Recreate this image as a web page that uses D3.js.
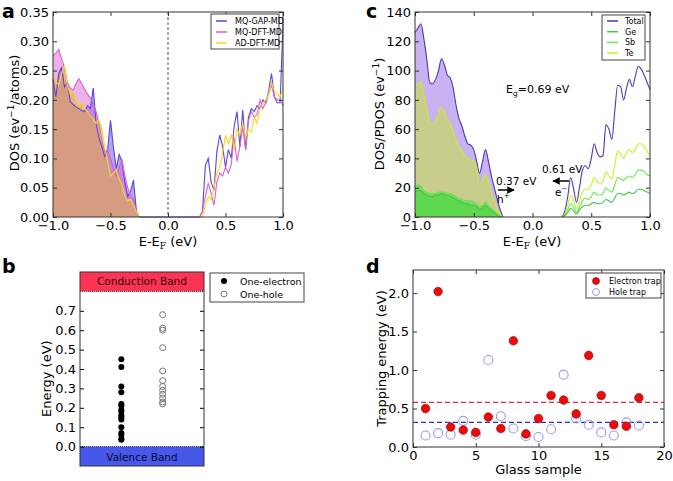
<!DOCTYPE html>
<html>
<head>
<meta charset="utf-8">
<script src="https://cdn.jsdelivr.net/npm/d3@7"></script>
<style>
  body { margin: 0; background: #fff; }
  svg text { font-family: 'DejaVu Sans', sans-serif; }
</style>
</head>
<body>
<svg id="chart" width="673" height="481"></svg>
<script>
// energy grids (eV), below and above the gap
const eValence = [-1.000, -0.975, -0.950, -0.925, -0.900, -0.875, -0.850, -0.825, -0.800, -0.775,
  -0.750, -0.725, -0.700, -0.675, -0.650, -0.625, -0.600, -0.575, -0.550, -0.525,
  -0.500, -0.475, -0.450, -0.425, -0.400, -0.375, -0.350, -0.325, -0.300, -0.275, -0.250];
const eConduction = [0.250, 0.275, 0.300, 0.325, 0.350, 0.375, 0.400, 0.425, 0.450, 0.475,
  0.500, 0.525, 0.550, 0.575, 0.600, 0.625, 0.650, 0.675, 0.700, 0.725,
  0.750, 0.775, 0.800, 0.825, 0.850, 0.875, 0.900, 0.925, 0.950, 0.975, 1.000];

// panel a: DOS per atom
const gapValence = [0.235, 0.205, 0.245, 0.255, 0.222, 0.230, 0.197, 0.192, 0.188, 0.185,
  0.182, 0.180, 0.190, 0.185, 0.220, 0.160, 0.135, 0.120, 0.103, 0.115,
  0.165, 0.120, 0.083, 0.107, 0.095, 0.060, 0.035, 0.045, 0.063, 0.010, 0.000];
const dftValence = [0.275, 0.280, 0.286, 0.270, 0.255, 0.230, 0.220, 0.217, 0.228, 0.236,
  0.228, 0.218, 0.210, 0.203, 0.192, 0.180, 0.160, 0.130, 0.110, 0.115,
  0.100, 0.085, 0.070, 0.085, 0.097, 0.070, 0.050, 0.035, 0.030, 0.008, 0.000];
const adValence = [0.245, 0.232, 0.225, 0.245, 0.257, 0.225, 0.210, 0.215, 0.200, 0.190,
  0.195, 0.185, 0.180, 0.172, 0.168, 0.160, 0.165, 0.150, 0.120, 0.095,
  0.070, 0.075, 0.080, 0.065, 0.055, 0.035, 0.028, 0.030, 0.020, 0.008, 0.000];
const gapConduction = [0.000, 0.000, 0.010, 0.088, 0.100, 0.060, 0.045, 0.112, 0.140, 0.120,
  0.085, 0.115, 0.100, 0.155, 0.180, 0.120, 0.183, 0.115, 0.170, 0.185,
  0.180, 0.190, 0.185, 0.200, 0.195, 0.215, 0.245, 0.205, 0.195, 0.195, 0.330];
const dftConduction = [0.000, 0.000, 0.010, 0.035, 0.058, 0.040, 0.020, 0.060, 0.075, 0.070,
  0.085, 0.075, 0.090, 0.135, 0.095, 0.120, 0.155, 0.115, 0.165, 0.180,
  0.170, 0.175, 0.200, 0.185, 0.195, 0.210, 0.225, 0.205, 0.200, 0.200, 0.190];
const adConduction = [0.000, 0.000, 0.000, 0.020, 0.035, 0.030, 0.050, 0.075, 0.085, 0.110,
  0.140, 0.125, 0.140, 0.115, 0.150, 0.140, 0.160, 0.135, 0.150, 0.145,
  0.170, 0.160, 0.185, 0.195, 0.200, 0.210, 0.230, 0.215, 0.210, 0.205, 0.220];

// panel c: total DOS and projected DOS
const totalValence = [126, 129, 132, 122, 108, 92, 91, 94, 100, 108,
  104, 97, 95, 88, 76, 67, 62, 55, 50, 49,
  46, 38, 30, 38, 46, 38, 28, 20, 12, 5, 0];
const teValence = [89, 91, 92, 84, 74, 64, 63, 66, 70, 75,
  72, 66, 64, 58, 52, 48, 45, 42, 40, 39,
  38, 34, 22, 25, 29, 24, 17, 11, 6, 2, 0];
const sbValence = [20, 22, 21, 18, 17, 16, 16, 16, 17, 17,
  17, 16, 16, 15, 14, 13, 12, 11, 11, 11,
  10, 9, 7, 8, 10, 8, 6, 4, 2, 1, 0];
const geValence = [17, 18, 18, 16, 15, 14, 14, 15, 15, 16,
  15, 15, 14, 13, 12, 11, 10, 9, 9, 8,
  8, 7, 5, 6, 8, 6, 4, 3, 1, 0, 0];
const totalConduction = [0, 4, 14, 27, 19, 10, 20, 32, 35, 33,
  40, 50, 44, 41, 42, 63, 60, 53, 72, 90,
  89, 80, 88, 94, 89, 96, 103, 101, 97, 92, 87];
const teConduction = [0, 2, 8, 15, 11, 6, 11, 17, 19, 19,
  22, 27, 24, 23, 24, 31, 28, 26, 36, 45,
  43, 40, 44, 46, 44, 46, 50, 50, 48, 45, 42];
const sbConduction = [0, 1, 5, 9, 7, 3, 7, 11, 13, 12,
  14, 17, 15, 15, 16, 20, 18, 17, 22, 27,
  26, 25, 27, 28, 27, 29, 32, 32, 31, 29, 28];
const geConduction = [0, 1, 3, 6, 4, 2, 5, 7, 8, 8,
  9, 10, 9, 9, 10, 12, 11, 10, 13, 16,
  16, 15, 16, 17, 16, 17, 19, 19, 18, 17, 16];

// panel b: trap levels (eV)
const electronLevels = [0.45, 0.41, 0.31, 0.28, 0.22, 0.21, 0.19, 0.18, 0.16, 0.15, 0.14, 0.10, 0.07, 0.06, 0.04, 0.035];
const holeLevels = [0.68, 0.61, 0.60, 0.51, 0.39, 0.34, 0.31, 0.29, 0.27, 0.25, 0.23, 0.22];

// panel d: trapping energy per glass sample
const samples = [1, 2, 3, 4, 5, 6, 7, 8, 9, 10, 11, 12, 13, 14, 15, 16, 17, 18];
const electronTrap = [0.50, 2.02, 0.26, 0.22, 0.19, 0.39, 0.24, 1.38, 0.17, 0.37, 0.67, 0.61, 0.43, 1.19, 0.67, 0.29, 0.27, 0.64];
const holeTrap = [0.15, 0.18, 0.16, 0.34, 0.16, 1.13, 0.40, 0.24, 0.14, 0.13, 0.23, 0.94, 0.37, 0.29, 0.19, 0.15, 0.32, 0.28];
const electronMean = 0.58;
const holeMean = 0.32;

const svg = d3.select('#chart');

const zip = (xs, ys) => xs.map((x, i) => [x, ys[i]]);

// matplotlib-like frame: inward ticks on all four sides
function frame(g, x, y, xTicks, yTicks, xFmt, yFmt) {
  const [yb, yt] = y.range();
  const [xl, xr] = x.range();
  const axes = [
    [d3.axisBottom(x).tickValues(xTicks).tickFormat(xFmt), `translate(0,${yb})`],
    [d3.axisTop(x).tickValues(xTicks).tickFormat(''), `translate(0,${yt})`],
    [d3.axisLeft(y).tickValues(yTicks).tickFormat(yFmt), `translate(${xl},0)`],
    [d3.axisRight(y).tickValues(yTicks).tickFormat(''), `translate(${xr},0)`],
  ];
  axes.forEach(([ax, tr]) => {
    const a = g.append('g')
      .attr('transform', tr)
      .call(ax.tickSize(-4).tickPadding(4));
    a.select('.domain').remove();
    a.selectAll('line').attr('stroke', '#333');
    a.attr('font-family', 'DejaVu Sans').attr('font-size', 13).attr('fill', '#000');
  });
  g.append('rect')
    .attr('x', xl).attr('y', yt)
    .attr('width', xr - xl).attr('height', yb - yt)
    .attr('fill', 'none')
    .attr('stroke', '#333')
    .attr('stroke-width', 1);
}

function eFermiLabel(g, cx, y) {
  const t = g.append('text')
    .attr('x', cx).attr('y', y)
    .attr('text-anchor', 'middle')
    .attr('font-size', 13);
  t.append('tspan').text('E-E');
  t.append('tspan').text('F').attr('font-family', 'DejaVu Serif').attr('font-size', 9).attr('dy', 3);
  t.append('tspan').text(' (eV)').attr('dy', -3);
}

function panelLetter(x, y, s) {
  svg.append('text')
    .attr('x', x).attr('y', y)
    .attr('font-size', 19)
    .attr('font-weight', 'bold')
    .text(s);
}

/* ---------- panel a ---------- */
const ga = svg.append('g');
const xa = d3.scaleLinear().domain([-1, 1]).range([53, 283]);
const ya = d3.scaleLinear().domain([0, 0.35]).range([217, 12]);

const seriesA = [
  { name: 'MQ-GAP-MD', val: gapValence, cond: gapConduction, line: '#5a46dc', fill: '#6450dc' },
  { name: 'MQ-DFT-MD', val: dftValence, cond: dftConduction, line: '#d860c8', fill: '#dc64dc' },
  { name: 'AD-DFT-MD', val: adValence, cond: adConduction, line: '#f8d820', fill: '#e6b41e' },
];

const areaA = d3.area().x((d) => xa(d[0])).y0(ya(0)).y1((d) => ya(d[1]));
const lineA = d3.line().x((d) => xa(d[0])).y((d) => ya(d[1]));

seriesA.forEach((s) => {
  ga.append('path')
    .datum(zip(eValence, s.val))
    .attr('d', areaA)
    .attr('fill', s.fill)
    .attr('fill-opacity', 0.5);
});
seriesA.forEach((s) => {
  [zip(eValence, s.val), zip(eConduction, s.cond)].forEach((pts) => {
    ga.append('path')
      .datum(pts)
      .attr('d', lineA)
      .attr('fill', 'none')
      .attr('stroke', s.line)
      .attr('stroke-width', 1.1);
  });
});
// flat zero across the gap
ga.append('line')
  .attr('x1', xa(-0.25)).attr('x2', xa(0.25))
  .attr('y1', ya(0)).attr('y2', ya(0))
  .attr('stroke', '#5a46dc');

ga.append('line')
  .attr('x1', xa(0)).attr('x2', xa(0))
  .attr('y1', ya(0.35)).attr('y2', ya(0))
  .attr('stroke', '#667080')
  .attr('stroke-width', 1.2)
  .attr('stroke-dasharray', '3,2');

frame(ga, xa, ya, [-1, -0.5, 0, 0.5, 1], d3.range(0, 0.351, 0.05), d3.format('.1f'), d3.format('.2f'));

// legend a
const legA = ga.append('g');
legA.append('rect')
  .attr('x', 211).attr('y', 14).attr('width', 68).attr('height', 35)
  .attr('fill', '#fff').attr('stroke', '#444');
seriesA.forEach((s, i) => {
  legA.append('line')
    .attr('x1', 216).attr('x2', 227)
    .attr('y1', 21 + i * 11).attr('y2', 21 + i * 11)
    .attr('stroke', s.line).attr('stroke-width', 1.5);
  legA.append('text')
    .attr('x', 235).attr('y', 24 + i * 11)
    .attr('font-size', 8)
    .text(s.name);
});

eFermiLabel(ga, 168, 246);
const yla = ga.append('text')
  .attr('transform', 'translate(19,113) rotate(-90)')
  .attr('text-anchor', 'middle')
  .attr('font-size', 13);
yla.append('tspan').text('DOS (ev');
yla.append('tspan').text('−1').attr('font-size', 9).attr('dy', -5);
yla.append('tspan').text('/atoms)').attr('dy', 5);
panelLetter(2, 18, 'a');

/* ---------- panel c ---------- */
const gc = svg.append('g');
const xc = d3.scaleLinear().domain([-1, 1]).range([415, 650]);
const yc = d3.scaleLinear().domain([0, 140]).range([217, 12]);

const seriesC = [
  { name: 'Total', val: totalValence, cond: totalConduction, line: '#5234b4', fill: '#9a72e8', op: 0.55 },
  { name: 'Ge', val: geValence, cond: geConduction, line: '#44c844', fill: '#3cdc3c', op: 0.5 },
  { name: 'Sb', val: sbValence, cond: sbConduction, line: '#66e84a', fill: '#3cdc3c', op: 0.5 },
  { name: 'Te', val: teValence, cond: teConduction, line: '#c8f020', fill: '#c8e628', op: 0.5 },
];
// fill order: total, Te, then the two small ones on top
const fillOrder = [0, 3, 2, 1];

const areaC = d3.area().curve(d3.curveMonotoneX).x((d) => xc(d[0])).y0(yc(0)).y1((d) => yc(d[1]));
const lineC = d3.line().curve(d3.curveMonotoneX).x((d) => xc(d[0])).y((d) => yc(d[1]));

fillOrder.forEach((k) => {
  const s = seriesC[k];
  gc.append('path')
    .datum(zip(eValence, s.val))
    .attr('d', areaC)
    .attr('fill', s.fill)
    .attr('fill-opacity', s.op);
});
fillOrder.forEach((k) => {
  const s = seriesC[k];
  [zip(eValence, s.val), zip(eConduction, s.cond)].forEach((pts) => {
    gc.append('path')
      .datum(pts)
      .attr('d', lineC)
      .attr('fill', 'none')
      .attr('stroke', s.line)
      .attr('stroke-width', 1.1);
  });
});

frame(gc, xc, yc, [-1, -0.5, 0, 0.5, 1], d3.range(0, 141, 20), d3.format('.1f'), d3.format('d'));

// legend c
const legC = gc.append('g');
legC.append('rect')
  .attr('x', 602).attr('y', 15).attr('width', 43).attr('height', 45)
  .attr('fill', '#fff').attr('stroke', '#444');
seriesC.forEach((s, i) => {
  legC.append('line')
    .attr('x1', 607).attr('x2', 618)
    .attr('y1', 21 + i * 10.7).attr('y2', 21 + i * 10.7)
    .attr('stroke', s.line).attr('stroke-width', 1.5);
  legC.append('text')
    .attr('x', 625).attr('y', 24 + i * 10.7)
    .attr('font-size', 8)
    .text(s.name);
});

// gap annotations
gc.append('defs').append('marker')
  .attr('id', 'head')
  .attr('viewBox', '0 0 10 10')
  .attr('refX', 9).attr('refY', 5)
  .attr('markerWidth', 5).attr('markerHeight', 5)
  .attr('orient', 'auto')
  .append('path')
  .attr('d', 'M0,0L10,5L0,10z')
  .attr('fill', '#000');

const eg = gc.append('text').attr('x', 506).attr('y', 93).attr('font-size', 11);
eg.append('tspan').text('E');
eg.append('tspan').text('g').attr('font-size', 7.5).attr('dy', 3);
eg.append('tspan').text('=0.69 eV').attr('dy', -3);

gc.append('text').attr('x', 496).attr('y', 185).attr('font-size', 10.5).text('0.37 eV');
gc.append('line')
  .attr('x1', 498).attr('x2', 514).attr('y1', 190).attr('y2', 190)
  .attr('stroke', '#000').attr('stroke-width', 1.5)
  .attr('marker-end', 'url(#head)');
const hp = gc.append('text').attr('x', 497).attr('y', 203).attr('font-size', 10.5);
hp.append('tspan').text('h');
hp.append('tspan').text('+').attr('font-size', 7).attr('dy', -5);

gc.append('text').attr('x', 542).attr('y', 173).attr('font-size', 10.5).text('0.61 eV');
gc.append('line')
  .attr('x1', 569).attr('x2', 553).attr('y1', 181).attr('y2', 181)
  .attr('stroke', '#000').attr('stroke-width', 1.5)
  .attr('marker-end', 'url(#head)');
const em = gc.append('text').attr('x', 555).attr('y', 196).attr('font-size', 10.5);
em.append('tspan').text('e');
em.append('tspan').text('−').attr('font-size', 7).attr('dy', -5);

eFermiLabel(gc, 532, 246);
const ylc = gc.append('text')
  .attr('transform', 'translate(384,114) rotate(-90)')
  .attr('text-anchor', 'middle')
  .attr('font-size', 13);
ylc.append('tspan').text('DOS/PDOS (ev');
ylc.append('tspan').text('−1').attr('font-size', 9).attr('dy', -5);
ylc.append('tspan').text(')').attr('dy', 5);
panelLetter(366, 18, 'c');

/* ---------- panel b ---------- */
const gb = svg.append('g');
const xb = d3.scaleLinear().domain([0, 3]).range([80, 204]);
const yb = d3.scaleLinear().domain([-0.1, 0.9]).range([466, 272]);

gb.append('rect')
  .attr('x', xb(0)).attr('y', yb(0.9))
  .attr('width', xb(3) - xb(0)).attr('height', yb(0.8) - yb(0.9))
  .attr('fill', '#fe3252');
gb.append('rect')
  .attr('x', xb(0)).attr('y', yb(0))
  .attr('width', xb(3) - xb(0)).attr('height', yb(-0.1) - yb(0))
  .attr('fill', '#4658ea');
gb.append('line')
  .attr('x1', xb(0)).attr('x2', xb(3)).attr('y1', yb(0.8)).attr('y2', yb(0.8))
  .attr('stroke', '#333').attr('stroke-dasharray', '1,1');
gb.append('line')
  .attr('x1', xb(0)).attr('x2', xb(3)).attr('y1', yb(0)).attr('y2', yb(0))
  .attr('stroke', '#333').attr('stroke-dasharray', '1,1');
gb.append('text')
  .attr('x', xb(1.5)).attr('y', 285)
  .attr('text-anchor', 'middle').attr('font-size', 10.5).attr('fill', '#2a0a10')
  .text('Conduction Band');
gb.append('text')
  .attr('x', xb(1.5)).attr('y', 461)
  .attr('text-anchor', 'middle').attr('font-size', 10.5).attr('fill', '#0a0a30')
  .text('Valence Band');

gb.selectAll('.electron')
  .data(electronLevels)
  .enter()
  .append('circle')
  .attr('cx', xb(1))
  .attr('cy', (d) => yb(d))
  .attr('r', 3)
  .attr('fill', '#000');
gb.selectAll('.hole')
  .data(holeLevels)
  .enter()
  .append('circle')
  .attr('cx', xb(2))
  .attr('cy', (d) => yb(d))
  .attr('r', 3)
  .attr('fill', 'none')
  .attr('stroke', '#777');

const yTicksB = d3.range(0, 0.71, 0.1);
const ab = gb.append('g')
  .attr('transform', `translate(${xb(0)},0)`)
  .call(d3.axisLeft(yb).tickValues(yTicksB).tickFormat(d3.format('.1f')).tickSize(-4).tickPadding(4));
ab.select('.domain').remove();
ab.attr('font-family', 'DejaVu Sans').attr('font-size', 13);
const abr = gb.append('g')
  .attr('transform', `translate(${xb(3)},0)`)
  .call(d3.axisRight(yb).tickValues(yTicksB).tickFormat('').tickSize(-4));
abr.select('.domain').remove();
gb.append('rect')
  .attr('x', xb(0)).attr('y', yb(0.9))
  .attr('width', xb(3) - xb(0)).attr('height', yb(-0.1) - yb(0.9))
  .attr('fill', 'none').attr('stroke', '#333');

// legend b
const legB = gb.append('g');
legB.append('rect')
  .attr('x', 210).attr('y', 273).attr('width', 94).attr('height', 29)
  .attr('fill', '#fff').attr('stroke', '#444');
legB.append('circle').attr('cx', 224).attr('cy', 281).attr('r', 3).attr('fill', '#000');
legB.append('circle').attr('cx', 224).attr('cy', 294).attr('r', 3).attr('fill', 'none').attr('stroke', '#777');
legB.append('text').attr('x', 240).attr('y', 284.5).attr('font-size', 9.5).text('One-electron');
legB.append('text').attr('x', 240).attr('y', 297.5).attr('font-size', 9.5).text('One-hole');

gb.append('text')
  .attr('transform', `translate(51,${yb(0.35)}) rotate(-90)`)
  .attr('text-anchor', 'middle')
  .attr('font-size', 13)
  .text('Energy (eV)');
panelLetter(2, 273, 'b');

/* ---------- panel d ---------- */
const gd = svg.append('g');
const xd = d3.scaleLinear().domain([0, 20]).range([413, 664]);
const yd = d3.scaleLinear().domain([0, 2.3]).range([447, 270]);

gd.append('line')
  .attr('x1', xd(0)).attr('x2', xd(20))
  .attr('y1', yd(electronMean)).attr('y2', yd(electronMean))
  .attr('stroke', '#e0284a').attr('stroke-width', 1.2).attr('stroke-dasharray', '5,3');
gd.append('line')
  .attr('x1', xd(0)).attr('x2', xd(20))
  .attr('y1', yd(holeMean)).attr('y2', yd(holeMean))
  .attr('stroke', '#2234c8').attr('stroke-width', 1.2).attr('stroke-dasharray', '5,3');

gd.selectAll('.htrap')
  .data(zip(samples, holeTrap))
  .enter()
  .append('circle')
  .attr('cx', (d) => xd(d[0]))
  .attr('cy', (d) => yd(d[1]))
  .attr('r', 4.5)
  .attr('fill', 'none')
  .attr('stroke', '#9a9aee')
  .attr('stroke-width', 1.1);
gd.selectAll('.etrap')
  .data(zip(samples, electronTrap))
  .enter()
  .append('circle')
  .attr('cx', (d) => xd(d[0]))
  .attr('cy', (d) => yd(d[1]))
  .attr('r', 4.3)
  .attr('fill', '#ee0a0a')
  .attr('stroke', '#8a0000')
  .attr('stroke-width', 0.6);

frame(gd, xd, yd, [0, 5, 10, 15, 20], [0, 0.5, 1, 1.5, 2], d3.format('d'), d3.format('.1f'));

// legend d
const legD = gd.append('g');
legD.append('rect')
  .attr('x', 586).attr('y', 273).attr('width', 75).attr('height', 25)
  .attr('fill', '#fff').attr('stroke', '#444');
legD.append('circle').attr('cx', 596).attr('cy', 281).attr('r', 3.5)
  .attr('fill', '#ee0a0a').attr('stroke', '#8a0000').attr('stroke-width', 0.6);
legD.append('circle').attr('cx', 596).attr('cy', 292).attr('r', 3.5)
  .attr('fill', 'none').attr('stroke', '#9a9aee');
legD.append('text').attr('x', 609).attr('y', 284).attr('font-size', 8).text('Electron trap');
legD.append('text').attr('x', 609).attr('y', 295).attr('font-size', 8).text('Hole trap');

gd.append('text')
  .attr('x', xd(10)).attr('y', 474)
  .attr('text-anchor', 'middle').attr('font-size', 13)
  .text('Glass sample');
gd.append('text')
  .attr('transform', `translate(386,${yd(1.15)}) rotate(-90)`)
  .attr('text-anchor', 'middle')
  .attr('font-size', 13)
  .text('Trapping energy (eV)');
panelLetter(366, 273, 'd');
</script>
</body>
</html>
